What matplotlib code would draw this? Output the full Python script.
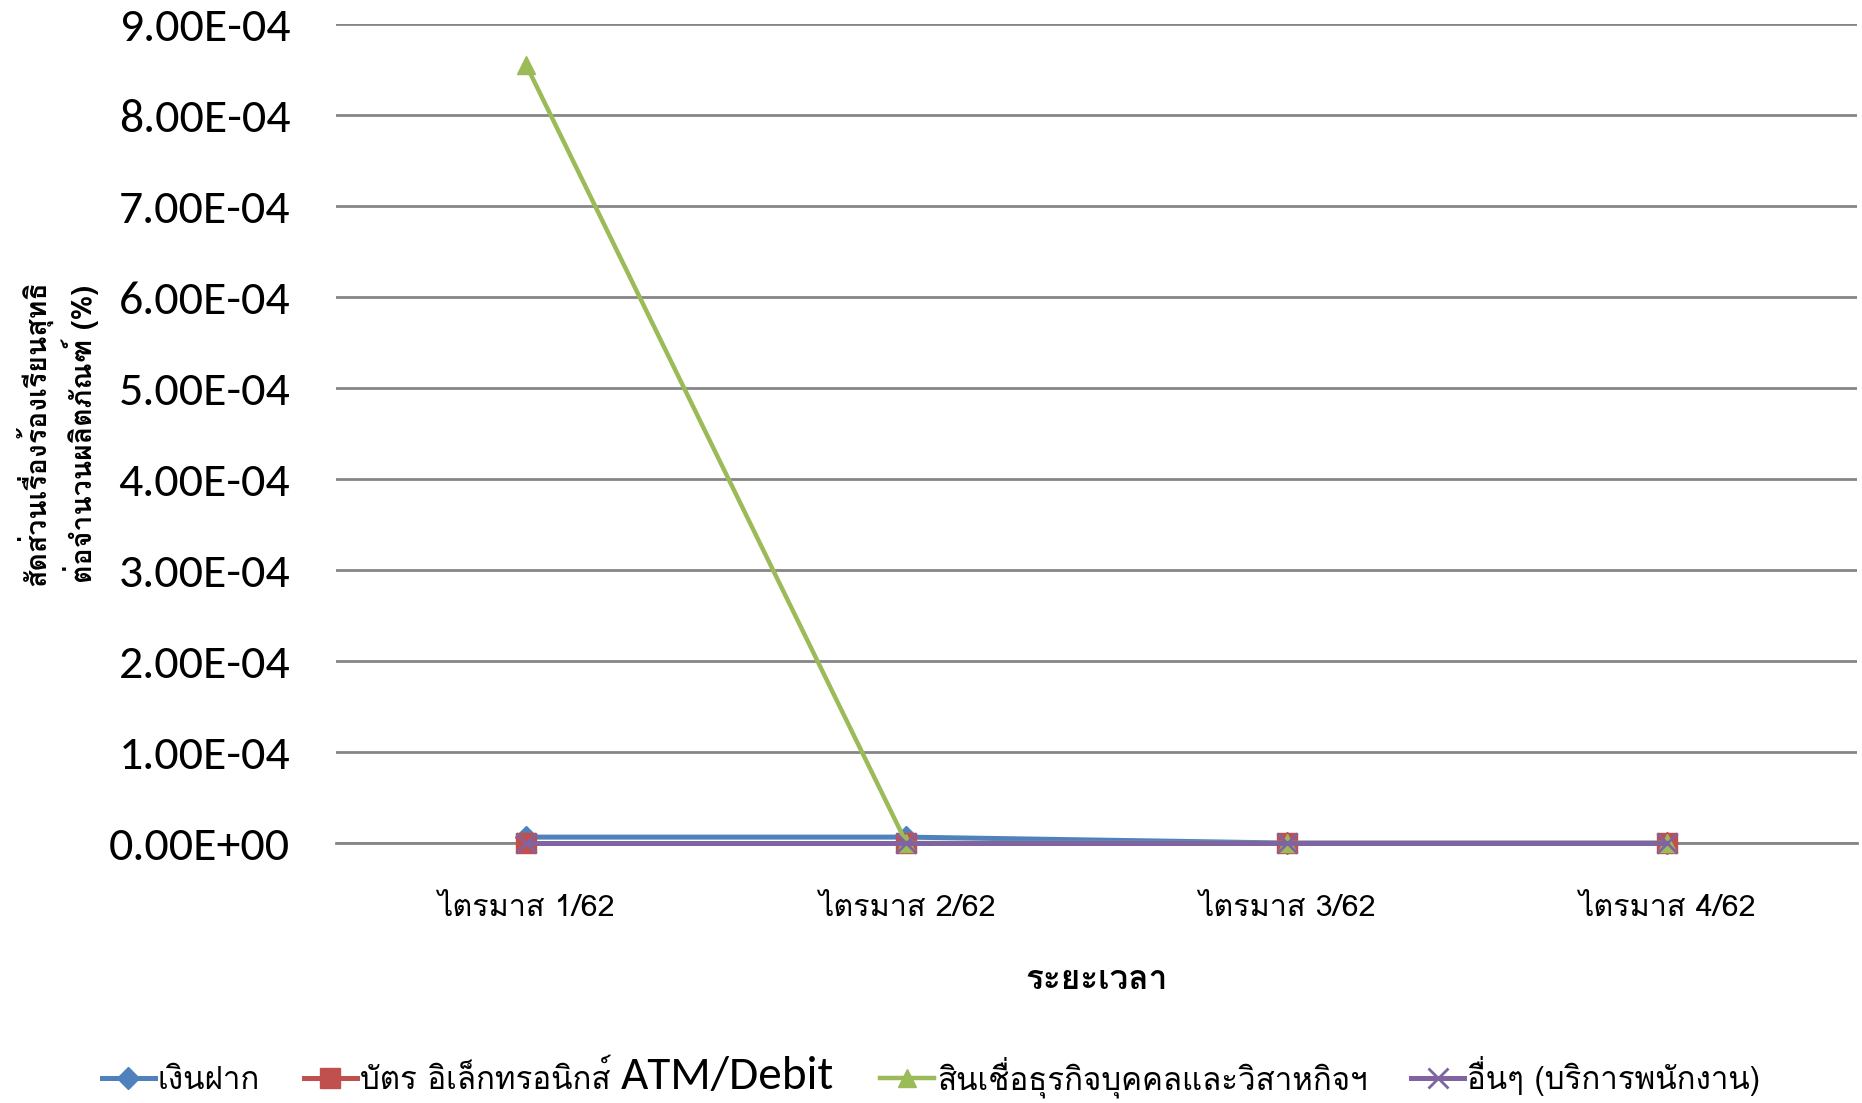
import matplotlib
matplotlib.use("Agg")
import matplotlib.pyplot as plt
from matplotlib import font_manager
from matplotlib.ticker import FuncFormatter, MultipleLocator


def has_font(name):
    try:
        font_manager.findfont(name, fallback_to_default=False)
        return True
    except Exception:
        return False


latin = "Carlito" if has_font("Carlito") else "Liberation Sans"
thai = "Loma" if has_font("Loma") else "Noto Sans Thai Looped"
thai_fam = [thai, "DejaVu Sans"]

# data
quarters = ["ไตรมาส 1/62", "ไตรมาส 2/62", "ไตรมาส 3/62", "ไตรมาส 4/62"]
deposit = [6.5e-06, 6.5e-06, 0.0, 0.0]
atm_debit = [0.0, 0.0, 0.0, 0.0]
sme_loan = [8.55e-04, 0.0, 0.0, 0.0]
other = [0.0, 0.0, 0.0, 0.0]
card_thai = "บัตร อิเล็กทรอนิกส์ "
card_latin = "ATM/Debit"
names = ["เงินฝาก", card_thai + card_latin,
         "สินเชื่อธุรกิจบุคคลและวิสาหกิจฯ", "อื่นๆ (บริการพนักงาน)"]

W, H = 1862, 1103
fig = plt.figure(figsize=(W / 100, H / 100), dpi=100)
ax = fig.add_axes([0.1805, 0.2357, 0.9973 - 0.1805, 0.9782 - 0.2357])
r = fig.canvas.get_renderer()

leg_size = 22.5
big_size = 34


def text_width(s, size, fam):
    t = fig.text(0, 0, s, fontsize=size, family=fam)
    w = t.get_window_extent(r).width
    t.remove()
    return w


# legend label 2: thai part in legend font, latin part drawn bigger on top
sp = text_width("a\u00a0a", leg_size, thai_fam) - text_width("aa", leg_size, thai_fam)
n_sp = int(round(text_width(card_latin, big_size, [latin]) / sp))
labels = list(names)
labels[1] = card_thai + "\u00a0" * n_sp

x = range(len(quarters))
ax.plot(x, deposit, color="#4F81BD", lw=3.6, marker="D", ms=11, label=labels[0], clip_on=False, zorder=3)
ax.plot(x, atm_debit, color="#C0504D", lw=3.6, marker="s", ms=14, label=labels[1], clip_on=False, zorder=4)
ax.plot(x, sme_loan, color="#9BBB59", lw=3.2, marker="^", ms=13, label=labels[2], clip_on=False, zorder=5)
ax.plot(x, other, color="#8064A2", lw=3.6, marker="x", ms=14, mew=2, label=labels[3], clip_on=False, zorder=6)

ax.set_xlim(-0.5, len(quarters) - 0.5)
ax.set_ylim(0, 9e-4)
ax.yaxis.set_major_locator(MultipleLocator(1e-4))
ax.yaxis.set_major_formatter(FuncFormatter(lambda v, p: f"{v:.2E}"))
ax.set_xticks(list(x))
ax.set_xticklabels(quarters, family=thai_fam, fontsize=22)
for lab in ax.get_yticklabels():
    lab.set_family([latin, "DejaVu Sans"])
    lab.set_fontsize(34.5)
ax.tick_params(axis="y", length=0, pad=33)
ax.tick_params(axis="x", length=0, pad=37)
ax.grid(axis="y", color="#868686", lw=2)
ax.set_axisbelow(True)
for s in ["top", "right", "left"]:
    ax.spines[s].set_visible(False)
ax.spines["bottom"].set_color("#868686")
ax.spines["bottom"].set_linewidth(2)

fig.text(0.031, 0.607, "สัดส่วนเรื่องร้องเรียนสุทธิ\nต่อจำนวนผลิตภัณฑ์ (%)", rotation=90,
         ha="center", va="center", multialignment="center", fontsize=20.5,
         fontweight="bold", family=thai_fam, linespacing=1.25)
fig.text(0.589, 0.1115, "ระยะเวลา", ha="center", va="center", fontsize=24,
         fontweight="bold", family=thai_fam)

leg = fig.legend(loc="center", bbox_to_anchor=(0.5, 1 - 1077 / H), ncol=4, frameon=False,
                 prop={"family": thai_fam, "size": leg_size},
                 handlelength=1.7, handletextpad=0.1, columnspacing=1.4)

fig.canvas.draw()
t2 = leg.get_texts()[1]
bx, by = t2.get_transform().transform(t2.get_position())
bb = t2.get_window_extent(r)
x_latin = bb.x0 + text_width(card_thai, leg_size, thai_fam)
fig.text(x_latin / W, by / H, card_latin, fontsize=big_size, family=[latin],
         ha="left", va="baseline")

fig.savefig("out.png")
